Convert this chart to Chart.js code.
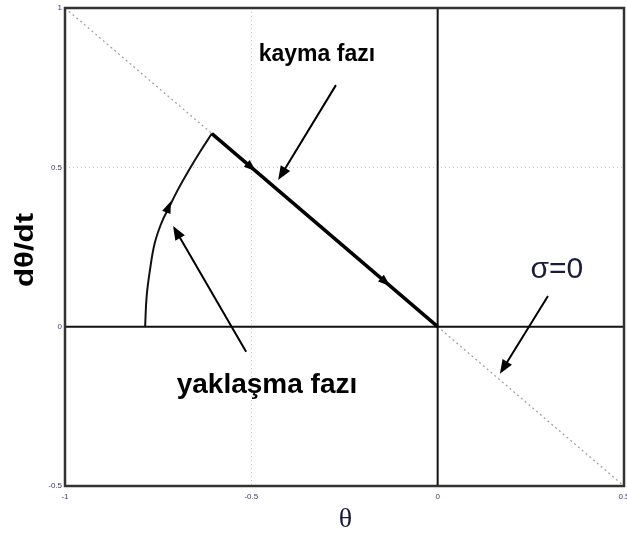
<!DOCTYPE html>
<html>
<head>
<meta charset="utf-8">
<script src="https://cdn.jsdelivr.net/npm/chart.js@4/dist/chart.umd.min.js"></script>
<style>
  html, body { margin: 0; padding: 0; background: #fff; }
</style>
</head>
<body>
<canvas id="phase" width="627" height="536"></canvas>
<script>
// phase plane: sliding line sigma = 0 and the trajectory onto it
const sigmaX = [-1, 0.5];
const sigmaY = [1, -0.5];

// reaching phase (arc) followed by sliding phase (along sigma = 0)
const reachX = [-0.785, -0.781, -0.772, -0.759, -0.741, -0.724, -0.697, -0.670, -0.638, -0.606];
const reachY = [0, 0.094, 0.178, 0.263, 0.326, 0.367, 0.430, 0.486, 0.548, 0.606];
const slideX = [-0.606, 0];
const slideY = [0.606, 0];

const xTicks = [-1, -0.5, 0, 0.5];
const yTicks = [-0.5, 0, 0.5, 1];

// direction markers on the trajectory: [x, y, dx, dy]
const flowMarks = [
  [-0.722, 0.376, 0.35, 1],
  [-0.5, 0.5, 1, -1],
  [-0.14, 0.14, 1, -1]
];

// annotation labels and their pointer arrows (tail -> head)
const labels = [
  { text: 'kayma fazı', x: -0.324, y: 0.855, font: 'bold 23px "Liberation Sans", Arial, sans-serif', color: '#000' },
  { text: 'yaklaşma fazı', x: -0.458, y: -0.185, font: 'bold 28px "Liberation Sans", Arial, sans-serif', color: '#000' },
  { text: 'σ=0', x: 0.32, y: 0.18, font: '30px "Liberation Sans", Arial, sans-serif', color: '#1b1b3c' }
];
const pointers = [
  [-0.273, 0.758, -0.428, 0.46],
  [-0.514, -0.079, -0.71, 0.316],
  [0.296, 0.096, 0.167, -0.148]
];

const pts = (xs, ys) => xs.map((x, i) => ({ x: x, y: ys[i] }));

function arrowHead(ctx, x, y, ang, len, half) {
  ctx.save();
  ctx.translate(x, y);
  ctx.rotate(ang);
  ctx.beginPath();
  ctx.moveTo(0, 0);
  ctx.lineTo(-len, -half);
  ctx.lineTo(-len, half);
  ctx.closePath();
  ctx.fill();
  ctx.restore();
}

const decorations = {
  id: 'decorations',
  afterDatasetsDraw(chart) {
    const { ctx, chartArea: a, scales: { x, y } } = chart;
    ctx.save();
    ctx.fillStyle = '#000';
    ctx.strokeStyle = '#000';

    flowMarks.forEach(([mx, my, dx, dy]) => {
      const px = x.getPixelForValue(mx), py = y.getPixelForValue(my);
      const ang = Math.atan2(y.getPixelForValue(my + dy * 0.01) - py, x.getPixelForValue(mx + dx * 0.01) - px);
      arrowHead(ctx, px + 6 * Math.cos(ang), py + 6 * Math.sin(ang), ang, 12, 4.5);
    });

    ctx.lineWidth = 2;
    pointers.forEach(([tx, ty, hx, hy]) => {
      const x0 = x.getPixelForValue(tx), y0 = y.getPixelForValue(ty);
      const x1 = x.getPixelForValue(hx), y1 = y.getPixelForValue(hy);
      const ang = Math.atan2(y1 - y0, x1 - x0);
      ctx.beginPath();
      ctx.moveTo(x0, y0);
      ctx.lineTo(x1 - 10 * Math.cos(ang), y1 - 10 * Math.sin(ang));
      ctx.stroke();
      arrowHead(ctx, x1, y1, ang, 14, 5.5);
    });

    ctx.textAlign = 'center';
    ctx.textBaseline = 'middle';
    labels.forEach(l => {
      ctx.font = l.font;
      ctx.fillStyle = l.color;
      ctx.fillText(l.text, x.getPixelForValue(l.x), y.getPixelForValue(l.y));
    });

    // axis titles
    ctx.fillStyle = '#1b1b3c';
    ctx.font = '28px "Liberation Serif", serif';
    ctx.fillText('θ', (a.left + a.right) / 2 + 1, 520);
    ctx.save();
    ctx.translate(26, 250);
    ctx.rotate(-Math.PI / 2);
    ctx.scale(1.25, 1);
    ctx.fillStyle = '#000';
    ctx.font = 'bold 25px "Liberation Sans", Arial, sans-serif';
    ctx.fillText('dθ/dt', 0, 0);
    ctx.restore();

    // frame
    ctx.strokeStyle = '#333';
    ctx.lineWidth = 2.5;
    ctx.strokeRect(a.left, a.top, a.right - a.left, a.bottom - a.top);
    ctx.restore();
  }
};

const fmtFor = list => v => list.includes(v) ? String(v) : '';
const gridColor = c => (c.tick && (c.tick.value === -0.5 || c.tick.value === 0.5 || c.tick.value === 0)) ? '#c8c8c8' : 'rgba(0,0,0,0)';

new Chart(document.getElementById('phase'), {
  type: 'scatter',
  data: {
    datasets: [
      { data: pts(slideX, slideY), showLine: true, borderColor: '#000', borderWidth: 3.5, pointRadius: 0, order: 0 },
      { data: pts(reachX, reachY), showLine: true, borderColor: '#111', borderWidth: 2, tension: 0.4, pointRadius: 0, order: 1 },
      { data: pts([-1, 0.5], [0, 0]), showLine: true, borderColor: '#111', borderWidth: 2, pointRadius: 0, order: 2 },
      { data: pts([0, 0], [-0.5, 1]), showLine: true, borderColor: '#111', borderWidth: 2, pointRadius: 0, order: 3 },
      { data: pts(sigmaX, sigmaY), showLine: true, borderColor: '#a0a0a0', borderWidth: 1.2, borderDash: [2, 3], pointRadius: 0, order: 4 }
    ]
  },
  options: {
    responsive: false,
    animation: false,
    layout: { padding: { top: 8, right: 3, left: 0, bottom: 0 } },
    plugins: { legend: { display: false }, tooltip: { enabled: false } },
    scales: {
      x: {
        type: 'linear', min: -1, max: 0.5,
        afterFit: s => { s.height = 50; s.paddingLeft = 0; s.paddingRight = 0; },
        ticks: { stepSize: 0.5, callback: fmtFor(xTicks), font: { size: 8, family: 'Arial' }, color: '#3a3a6a', padding: 6 },
        grid: { color: gridColor, drawTicks: false, lineWidth: 1 },
        border: { display: false, dash: [1, 3] }
      },
      y: {
        type: 'linear', min: -0.5, max: 1,
        afterFit: s => { s.width = 65; s.paddingTop = 0; s.paddingBottom = 0; },
        ticks: { stepSize: 0.5, callback: fmtFor(yTicks), font: { size: 8, family: 'Arial' }, color: '#3a3a6a', padding: 3 },
        grid: { color: gridColor, drawTicks: false, lineWidth: 1 },
        border: { display: false, dash: [1, 3] }
      }
    }
  },
  plugins: [decorations]
});
</script>
</body>
</html>
